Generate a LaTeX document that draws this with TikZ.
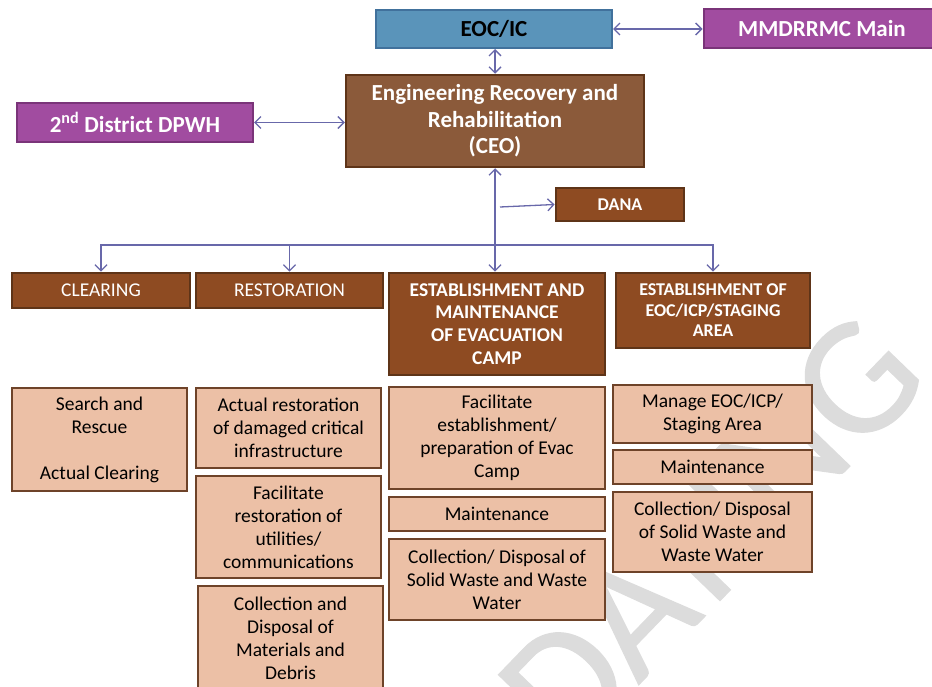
\documentclass[tikz,border=0pt]{standalone}
\usepackage{fontspec}
\setmainfont{Carlito}
\newfontfamily\wmfont[FakeBold=0.7]{Carlito}
\usetikzlibrary{arrows.meta}
\definecolor{eocblue}{HTML}{5A94BA}
\definecolor{eocedge}{HTML}{41719C}
\definecolor{purp}{HTML}{A14CA0}
\definecolor{purpedge}{HTML}{7A3479}
\definecolor{engbrown}{HTML}{8B5A3A}
\definecolor{rust}{HTML}{8E4B22}
\definecolor{rustedge}{HTML}{5E3418}
\definecolor{peach}{HTML}{ECC0A6}
\definecolor{peachedge}{HTML}{6E4329}
\definecolor{arrowc}{HTML}{6868AA}
\definecolor{wmgray}{HTML}{DCDCDC}
\tikzset{
  box/.style={rectangle, draw, inner sep=0pt, align=center},
  topbox/.style={box, line width=2pt, font=\fontsize{23}{26.5}\selectfont\bfseries},
  bluebox/.style={topbox, fill=eocblue, draw=eocedge, text=black},
  purpbox/.style={topbox, fill=purp, draw=purpedge, text=white},
  engbox/.style={topbox, fill=engbrown, draw=rustedge, text=white, line width=2.5pt},
  rustbox/.style={box, fill=rust, draw=rustedge, text=white, line width=2.8pt, font=\fontsize{19.5}{23}\selectfont},
  peachbox/.style={box, fill=peach, draw=peachedge, text=black, line width=2.8pt, font=\fontsize{19.5}{23}\selectfont},
  conn/.style={draw=arrowc, line width=1.3pt, >={Straight Barb[length=6pt,width=12pt]}}
}
\begin{document}
\begin{tikzpicture}[x=1pt,y=-1pt]
\clip (0,0) rectangle (932,687);
\fill[white] (0,0) rectangle (932,687);
% watermark
\node[rotate=46, text=wmgray, font=\wmfont\fontsize{168}{168}\selectfont, anchor=base west, inner sep=0pt] (wmark) at (568,758) {DATING};
% top level
\node[bluebox, minimum width=236pt, minimum height=38pt] (eoc) at (494,29) {EOC/IC};
\node[purpbox, minimum width=237pt, minimum height=39pt] (mmd) at (822,28.5) {MMDRRMC Main};
\node[engbox, minimum width=298pt, minimum height=92pt] (eng) at (495,121) {Engineering Recovery and\\Rehabilitation\\(CEO)};
\node[purpbox, minimum width=236pt, minimum height=39pt] (dpwh) at (135,122.5) {2\textsuperscript{nd} District DPWH};
\node[rustbox, minimum width=128pt, minimum height=33pt, font=\fontsize{18}{20}\selectfont\bfseries] (dana) at (620,204.5) {DANA};
% second level
\node[rustbox, minimum width=178pt, minimum height=35pt] (clr) at (101,290.5) {CLEARING};
\node[rustbox, minimum width=187pt, minimum height=35pt] (rst) at (289.5,290.5) {RESTORATION};
\node[rustbox, minimum width=216pt, minimum height=102pt, font=\fontsize{19.5}{22.7}\selectfont\bfseries] (evac) at (497,324) {ESTABLISHMENT AND\\MAINTENANCE\\OF EVACUATION\\CAMP};
\node[rustbox, minimum width=194pt, minimum height=75pt, font=\fontsize{18}{20.5}\selectfont\bfseries] (est) at (713,310.5) {ESTABLISHMENT OF\\EOC/ICP/STAGING\\AREA};
% third level
\node[peachbox, minimum width=175pt, minimum height=103pt] (p1) at (99.5,439.5) {Search and\\Rescue\\[23pt]Actual Clearing};
\node[peachbox, minimum width=185pt, minimum height=80pt] (p2) at (288.5,428) {Actual restoration\\of damaged critical\\infrastructure};
\node[peachbox, minimum width=185pt, minimum height=102pt] (p3) at (288.5,527) {Facilitate\\restoration of\\utilities/\\communications};
\node[peachbox, minimum width=185pt, minimum height=104pt] (p4) at (290.5,638) {Collection and\\Disposal of\\Materials and\\Debris};
\node[peachbox, minimum width=216pt, minimum height=102pt] (p5) at (497,438) {Facilitate\\establishment/\\preparation of Evac\\Camp};
\node[peachbox, minimum width=216pt, minimum height=34pt] (p6) at (497,514) {Maintenance};
\node[peachbox, minimum width=216pt, minimum height=81pt] (p7) at (497,579.5) {Collection/ Disposal of\\Solid Waste and Waste\\Water};
\node[peachbox, minimum width=199pt, minimum height=58pt] (p8) at (712.5,414) {Manage EOC/ICP/\\Staging Area};
\node[peachbox, minimum width=199pt, minimum height=34pt] (p9) at (712.5,467) {Maintenance};
\node[peachbox, minimum width=199pt, minimum height=80pt] (p10) at (712.5,532) {Collection/ Disposal\\of Solid Waste and\\Waste Water};
% connectors
\draw[conn,<->] (eoc.east) -- (mmd.west |- eoc.east);
\draw[conn,<->] (eoc.south -| eng.north) -- (eng.north);
\draw[conn,<->] (dpwh.east) -- (eng.west |- dpwh.east);
\draw[conn,<->] (eng.south) -- (eng.south |- evac.north);
\coordinate (bus) at (eng.south |- 0,245);
\coordinate (dsrc) at (500,207);
\draw[conn,->] (dsrc) -- (dana.west);
\draw[conn,->] (bus) -| (clr.north);
\draw[conn,->] (bus) -| (rst.north);
\draw[conn,->] (bus) -| (est.north);
\end{tikzpicture}
\end{document}
